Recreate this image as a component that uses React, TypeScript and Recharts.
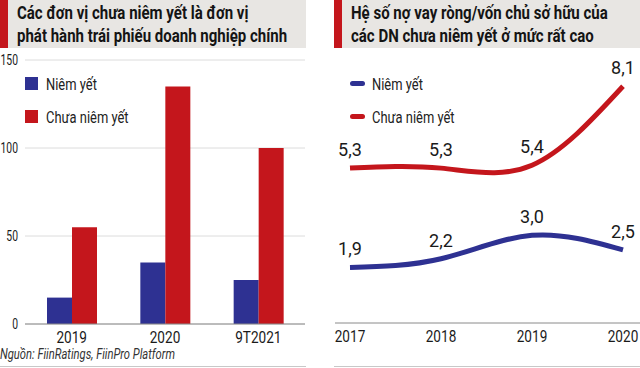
import { BarChart, Bar, LineChart, Line, XAxis, YAxis, CartesianGrid, LabelList } from 'recharts';

const barCategories = ['2019', '2020', '9T2021'];
const listedIssuance = [15, 35, 25];
const unlistedIssuance = [55, 135, 100];
const barTicks = [0, 50, 100, 150];

const lineYears = ['2017', '2018', '2019', '2020'];
const listedLeverage = [1.9, 2.2, 3.0, 2.5];
const unlistedLeverage = [5.3, 5.3, 5.4, 8.1];

const BLUE = '#2e3192';
const RED = '#c4161c';
const HEADER = '#e8e6e3';
const FONT = "Roboto, 'Noto Sans', sans-serif";

const barData = barCategories.map((name, i) => ({
  name,
  listed: listedIssuance[i],
  unlisted: unlistedIssuance[i],
}));

const lineData = lineYears.map((name, i) => ({
  name,
  listed: listedLeverage[i],
  unlisted: unlistedLeverage[i],
}));

const fmt = (v: number) => v.toFixed(1).replace('.', ',');

// the original uses a condensed face; squeeze Roboto horizontally instead
function Narrow({ s, children }: { s: number; children: any }) {
  return (
    <span style={{ display: 'inline-block', transform: `scaleX(${s})`, transformOrigin: 'left center', whiteSpace: 'nowrap' }}>
      {children}
    </span>
  );
}

function NarrowTick(props: any) {
  const { x, y, payload, textAnchor, verticalAnchor, fontSize = 16, sx = 0.8 } = props;
  const dy = verticalAnchor === 'start' ? '0.71em' : '0.355em';
  return (
    <g transform={`translate(${x},${y}) scale(${sx},1)`}>
      <text x={0} y={0} dy={dy} textAnchor={textAnchor} fill="#1a1a1a" fontSize={fontSize} fontFamily={FONT}>
        {payload.value}
      </text>
    </g>
  );
}

function Header({ left, lines }: { left: number; lines: string[] }) {
  return (
    <div style={{ position: 'absolute', left, top: 0, width: 306, height: 48, background: HEADER }}>
      <div style={{ position: 'absolute', left: 0, top: 0, width: 8, height: 48, background: RED }} />
      <div
        style={{
          position: 'absolute',
          left: 17,
          top: 1,
          fontFamily: FONT,
          fontWeight: 700,
          fontSize: 19,
          lineHeight: '23px',
          color: '#141414',
        }}
      >
        {lines.map((l) => (
          <div key={l}>
            <Narrow s={0.79}>{l}</Narrow>
          </div>
        ))}
      </div>
    </div>
  );
}

function LegendBox({ left, top, kind }: { left: number; top: number; kind: 'square' | 'line' }) {
  const items = [
    { label: 'Niêm yết', color: BLUE },
    { label: 'Chưa niêm yết', color: RED },
  ];
  return (
    <div style={{ position: 'absolute', left, top, fontFamily: FONT, fontSize: 17, color: '#222' }}>
      {items.map((it) => (
        <div key={it.label} style={{ display: 'flex', alignItems: 'center', height: 33 }}>
          {kind === 'square' ? (
            <span style={{ width: 13, height: 13, background: it.color, marginRight: 8 }} />
          ) : (
            <span style={{ width: 15, height: 5, borderRadius: 3, background: it.color, marginRight: 7 }} />
          )}
          <Narrow s={0.76}>{it.label}</Narrow>
        </div>
      ))}
    </div>
  );
}

export default function App() {
  return (
    <div style={{ position: 'absolute', left: 0, top: 0, width: 640, height: 368, background: '#fff', overflow: 'hidden' }}>
      <Header left={0} lines={['Các đơn vị chưa niêm yết là đơn vị', 'phát hành trái phiếu doanh nghiệp chính']} />
      <Header left={334} lines={['Hệ số nợ vay ròng/vốn chủ sở hữu của', 'các DN chưa niêm yết ở mức rất cao']} />

      <div style={{ position: 'absolute', left: 0, top: 0 }}>
        <BarChart width={310} height={368} data={barData} margin={{ top: 60, right: 5, bottom: 14, left: 0 }} barGap={0} barSize={25}>
          <CartesianGrid vertical={false} stroke="#dcdcdc" />
          <XAxis dataKey="name" tick={<NarrowTick fontSize={17} />} tickLine={false} axisLine={{ stroke: '#8a8a8a' }} tickSize={0} tickMargin={7} height={30} />
          <YAxis domain={[0, 150]} ticks={barTicks} tick={<NarrowTick fontSize={14} sx={0.74} />} tickLine={false} axisLine={false} width={25} tickSize={0} tickMargin={7} />
          <Bar dataKey="listed" fill={BLUE} isAnimationActive={false} />
          <Bar dataKey="unlisted" fill={RED} isAnimationActive={false} />
        </BarChart>
      </div>
      <LegendBox left={25} top={67} kind="square" />
      <div style={{ position: 'absolute', left: 0, top: 346, fontFamily: FONT, fontStyle: 'italic', fontSize: 14, color: '#333' }}>
        <Narrow s={0.8}>Nguồn: FiinRatings, FiinPro Platform</Narrow>
      </div>

      <div style={{ position: 'absolute', left: 320, top: 0 }}>
        <LineChart width={320} height={368} data={lineData} margin={{ top: 60, right: 0, bottom: 15, left: 15 }}>
          <XAxis dataKey="name" tick={<NarrowTick fontSize={17} />} tickLine={false} axisLine={{ stroke: '#8a8a8a' }} tickSize={0} tickMargin={7} height={30} padding={{ left: 15, right: 17 }} />
          <YAxis hide domain={[0, 9]} />
          <Line type="natural" dataKey="listed" stroke={BLUE} strokeWidth={5} dot={false} isAnimationActive={false}>
            <LabelList dataKey="listed" position="top" offset={12} formatter={(v: any) => fmt(Number(v))} style={{ fill: '#1a1a1a', fontSize: 18, fontFamily: FONT }} />
          </Line>
          <Line type="natural" dataKey="unlisted" stroke={RED} strokeWidth={5} dot={false} isAnimationActive={false}>
            <LabelList dataKey="unlisted" position="top" offset={12} formatter={(v: any) => fmt(Number(v))} style={{ fill: '#1a1a1a', fontSize: 18, fontFamily: FONT }} />
          </Line>
        </LineChart>
      </div>
      <LegendBox left={350} top={67} kind="line" />

      <div style={{ position: 'absolute', left: 0, top: 366, width: 306, height: 1, background: '#c8c8c8' }} />
      <div style={{ position: 'absolute', left: 334, top: 366, width: 306, height: 1, background: '#c8c8c8' }} />
    </div>
  );
}
